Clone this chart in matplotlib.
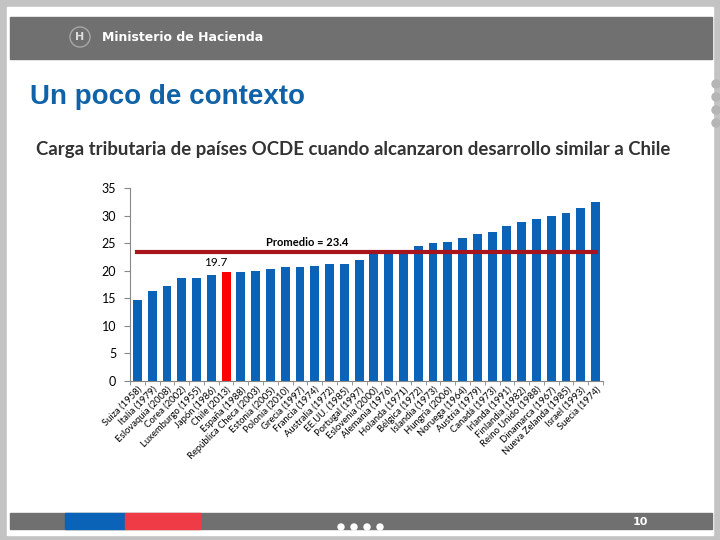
"""
Carga tributaria de países OCDE cuando alcanzaron desarrollo similar a Chile
"""
import numpy as np
import matplotlib.pyplot as plt
from matplotlib.patches import Rectangle, Circle

# 1. datos
paises = ["Suiza (1958)", "Italia (1979)", "Eslovaquia (2008)", "Corea (2002)",
          "Luxemburgo (1955)", "Japón (1986)", "Chile (2013)", "España (1988)",
          "República Checa (2003)", "Estonia (2005)", "Polonia (2010)", "Grecia (1997)",
          "Francia (1974)", "Australia (1972)", "EE.UU. (1985)", "Portugal (1997)",
          "Eslovenia (2000)", "Alemania (1976)", "Holanda (1971)", "Bélgica (1972)",
          "Islandia (1973)", "Hungría (2006)", "Noruega (1964)", "Austria (1979)",
          "Canadá (1973)", "Irlanda (1991)", "Finlandia (1982)", "Reino Unido (1988)",
          "Dinamarca (1967)", "Nueva Zelanda (1985)", "Israel (1993)", "Suecia (1974)"]
carga = [14.7, 16.3, 17.3, 18.7, 18.7, 19.2, 19.7, 19.8,
         20.0, 20.4, 20.6, 20.7, 20.9, 21.2, 21.2, 22.0,
         23.5, 23.5, 23.8, 24.4, 25.1, 25.2, 26.0, 26.7,
         27.1, 28.1, 28.9, 29.4, 30.0, 30.5, 31.4, 32.5]
promedio = 23.4
chile = "Chile (2013)"
y_ticks = [0, 5, 10, 15, 20, 25, 30, 35]

azul = "#0B63B8"
rojo = "#FF0000"
linea = "#A8141C"

# 2. slide (fondo, cabecera, pie)
fig = plt.figure(figsize=(7.2, 5.4), dpi=100)
fig.patch.set_facecolor("#C3C3C3")
bg = fig.add_axes([0, 0, 1, 1])
bg.set_xlim(0, 720)
bg.set_ylim(540, 0)
bg.axis("off")
bg.add_patch(Rectangle((7, 7), 706, 528, color="white"))
bg.add_patch(Rectangle((10, 17), 702, 42, color="#707070"))
bg.add_patch(Circle((80, 37), 10, fill=False, ec="#A8A8A8", lw=1))
bg.text(80, 37.5, "H", color="#DDDDDD", fontsize=8, ha="center", va="center",
        fontweight="bold")
bg.text(102, 37.5, "Ministerio de Hacienda", color="white", fontsize=9,
        ha="left", va="center", family="Liberation Sans Narrow", fontweight="bold")
bg.text(30, 97, "Un poco de contexto", color="#0F62A8", fontsize=20,
        fontweight="bold", family="Liberation Sans", ha="left", va="center")
bg.text(353, 150, "Carga tributaria de países OCDE cuando alcanzaron desarrollo similar a Chile",
        color="#333333", fontsize=13.4, fontweight="bold", family="Lato",
        ha="center", va="center")
for yy in [84, 97, 110, 123]:
    bg.add_patch(Circle((716, yy), 4, color="#B5B5B5"))
bg.add_patch(Rectangle((10, 513), 702, 16, color="#707070"))
bg.add_patch(Rectangle((65, 513), 60, 16, color="#0B63B8"))
bg.add_patch(Rectangle((125, 513), 75, 16, color="#EE3B45"))
for xx in [341, 354, 367, 380]:
    bg.add_patch(Circle((xx, 527), 3, color="white"))
bg.text(640, 522, "10", color="white", fontsize=8, fontweight="bold",
        ha="center", va="center", family="Liberation Sans Narrow")

# 3. grafico de barras
ax = fig.add_axes([130 / 720, 1 - 381 / 540, 473 / 720, 193 / 540])
x = np.arange(len(paises))
colores = [rojo if p == chile else azul for p in paises]
ax.bar(x, carga, width=0.6, color=colores, zorder=2)
ax.plot([x[0], x[-1]], [promedio, promedio], color=linea, lw=3, zorder=3)

i = paises.index(chile)
ax.text(x[i] - 0.7, carga[i] + 1.8, f"{carga[i]:.1f}", fontsize=8.5,
        ha="center", va="center", family="Lato")
ax.text(11.5, promedio + 1.7, f"Promedio = {promedio}", fontsize=8,
        fontweight="bold", ha="center", va="center", family="Lato")

ax.set_xlim(-0.5, len(paises) - 0.5)
ax.set_ylim(0, 35)
ax.set_yticks(y_ticks)
ax.set_yticklabels([str(t) for t in y_ticks], fontsize=9, family="Lato")
ax.set_xticks(x)
ax.set_xticklabels(paises, rotation=45, ha="right", va="top",
                   rotation_mode="anchor", fontsize=6.8, family="Lato")
ax.set_xticks(np.arange(-0.5, len(paises)), minor=True)
ax.tick_params(axis="x", which="major", length=0, pad=3)
ax.tick_params(axis="x", which="minor", length=3, color="#888888")
ax.tick_params(axis="y", length=4, color="#888888", pad=6)
for s in ["top", "right"]:
    ax.spines[s].set_visible(False)
for s in ["left", "bottom"]:
    ax.spines[s].set_color("#888888")
ax.set_facecolor("none")

plt.savefig("out.png", dpi=100, facecolor=fig.get_facecolor())
